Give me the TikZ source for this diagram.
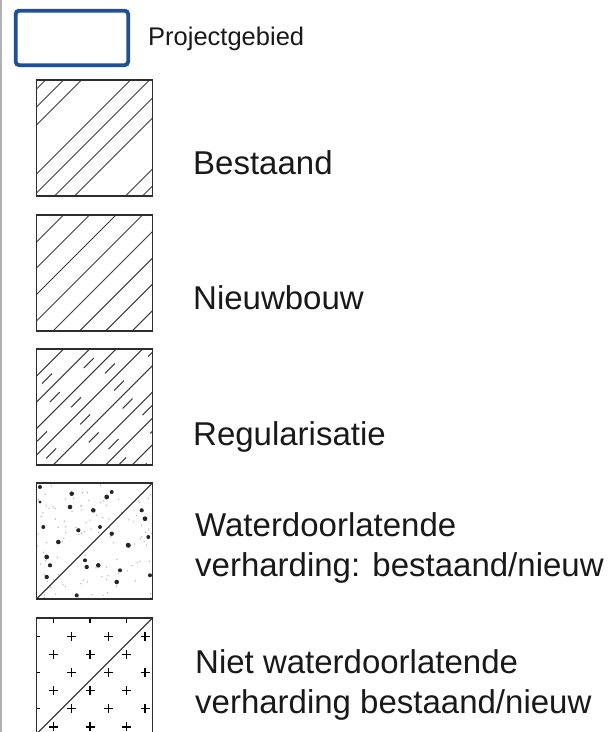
\documentclass[tikz,border=0pt]{standalone}
\usepackage{fontspec}
\setmainfont{Liberation Sans}
\definecolor{pblue}{RGB}{30,80,152}
\definecolor{boxc}{RGB}{45,45,45}
\definecolor{hatchc}{RGB}{60,60,60}
\definecolor{txtc}{RGB}{25,25,25}
\tikzset{
  swatch/.style={draw=boxc, line width=1.5pt, minimum width=116pt, minimum height=116pt, inner sep=0pt, outer sep=0pt, anchor=north west},
  hatch/.style={draw=hatchc, line width=1.05pt},
  plusmark/.style={draw=black, line width=1.3pt},
  lbl/.style={anchor=base west, inner sep=0pt, text=txtc, font=\fontsize{33}{40}\selectfont},
}
\begin{document}
\begin{tikzpicture}[x=1pt,y=-1pt]
\useasboundingbox (0,0) rectangle (611,732);
\clip (0,0) rectangle (611,732);
% left rule
\draw[gray!60, line width=1.2pt] (1,0) -- (1,732);

% Projectgebied
\node[draw=pblue, line width=3.8pt, rounded corners=3.5pt, minimum width=112.5pt, minimum height=54.5pt, inner sep=0pt, anchor=north west] (pg) at (13.75,8.75) {};
\node[anchor=base west, inner sep=0pt, text=txtc, font=\fontsize{25.5}{30}\selectfont] (pgt) at (148,45) {Projectgebied};

% Bestaand
\begin{scope}
\clip (36.5,80) rectangle (152.5,196);
\foreach \d in {107,89,71,22,3,-18,-38,-89,-106}
  \draw[hatch] ({36.5-150},{196-(\d)+150}) -- ({36.5+300},{196-(\d)-300});
\end{scope}
\node[swatch] (s1) at (36.5,80) {};
\node[lbl] (t1) at (193,174) {Bestaand};

% Nieuwbouw
\begin{scope}
\clip (36.5,215) rectangle (152.5,331);
\foreach \d in {89,63,36.5,10,-16.5,-43,-69,-95.5}
  \draw[hatch] ({36.5-150},{331-(\d)+150}) -- ({36.5+300},{331-(\d)-300});
\end{scope}
\node[swatch] (s2) at (36.5,215) {};
\node[lbl] (t2) at (193,309) {Nieuwbouw};

% Regularisatie
\begin{scope}
\clip (36.5,349) rectangle (152.5,465);
\foreach \d in {89,63,36.5,10,-16.5,-43,-69,-95.5}
  \draw[hatch] ({36.5-150},{465-(\d)+150}) -- ({36.5+300},{465-(\d)-300});
\foreach \d/\p in {102/4,76/20,49.7/9,23.2/27,-3.2/14,-29.7/2,-56/22,-82.2/11,-108.5/30}
  \draw[hatch, dash pattern=on 14pt off 34pt, dash phase=\p pt] ({36.5-150},{465-(\d)+150}) -- ({36.5+300},{465-(\d)-300});
\end{scope}
\node[swatch] (s3) at (36.5,349) {};
\node[lbl] (t3) at (193,445) {Regularisatie};

% Waterdoorlatende
\begin{scope}
\clip (36.5,483) rectangle (152.5,599);
\pgfmathsetseed{42}
\foreach \i in {1,...,110}{
  \pgfmathsetmacro{\rx}{36.5+116*rnd}
  \pgfmathsetmacro{\ry}{483+116*rnd}
  \fill[gray!60] (\rx,\ry) circle[radius=0.75pt];
}
\foreach \x/\y/\r in {40/487/2,71.7/493.7/2.3,111.7/492/2,106.7/497/2.4,70/507/2.3,40/502/1.7,93.3/510.3/2.3,141.7/510.3/2.1,145/518.7/2.4,43.3/527/2,78.3/530.3/2.1,100/527/2,111.7/533.7/2.2,148.3/537/2,58.3/542/2.3,128.3/545.3/2.5,46.7/557/2.4,50/565.3/2.1,85/560.3/2,86.7/567/2.2,98.3/565.3/2.3,120/570.3/2,150/575.3/2,46.7/577/2.2,116.7/582/2.3,76.7/595.3/2}
  \fill[black!85] (\x,\y) circle[radius=\r pt];
\draw[hatch, line width=1.3pt] (36.5,599) -- (152.5,483);
\end{scope}
\node[swatch] (s4) at (36.5,483) {};
\node[lbl] (t4a) at (195,536) {Waterdoorlatende};
\node[lbl] (t4b) at (195,576) {verharding: bestaand/nieuw};

% Niet waterdoorlatende
\begin{scope}
\clip (36.5,618) rectangle (152.5,734);
\foreach \k in {0,2,4,6}
  \foreach \x in {53.3,90,126.7}
    \draw[plusmark] ({\x-4.5},{618.3+18.1*\k}) -- ({\x+4.5},{618.3+18.1*\k})
                    (\x,{618.3+18.1*\k-4.5}) -- (\x,{618.3+18.1*\k+4.5});
\foreach \k in {1,3,5}
  \foreach \x in {35,71.7,108.3,145}
    \draw[plusmark] ({\x-4.5},{618.3+18.1*\k}) -- ({\x+4.5},{618.3+18.1*\k})
                    (\x,{618.3+18.1*\k-4.5}) -- (\x,{618.3+18.1*\k+4.5});
\draw[hatch, line width=1.3pt] (36.5,734) -- (152.5,618);
\end{scope}
\node[swatch] (s5) at (36.5,618) {};
\node[lbl] (t5a) at (195,673) {Niet waterdoorlatende};
\node[lbl] (t5b) at (195,713) {verharding bestaand/nieuw};
\end{tikzpicture}
\end{document}
